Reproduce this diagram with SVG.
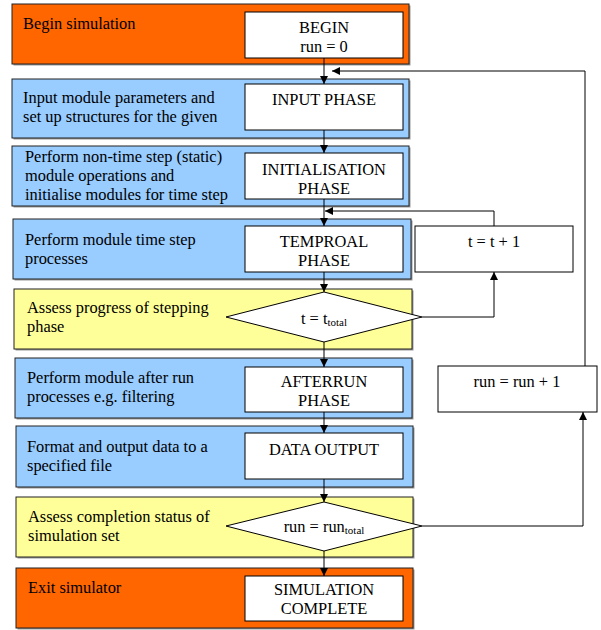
<svg xmlns="http://www.w3.org/2000/svg" width="601" height="630" viewBox="0 0 601 630" font-family="'Liberation Serif', 'Times New Roman', serif">
<defs>
<style>
text{font-family:'Liberation Serif','Times New Roman',serif;font-size:16.4px;fill:#000}
.c{text-anchor:middle}
.sub{font-size:11px}
.sh{fill:#999;stroke:none}
.or{fill:#FF6600;stroke:#222;stroke-width:1}
.bl{fill:#99CCFF;stroke:#222;stroke-width:1}
.ye{fill:#FFFF99;stroke:#222;stroke-width:1}
.bx{fill:#fff;stroke:#000;stroke-width:1}
.ln{fill:none;stroke:#000;stroke-width:1}
</style>
<marker id="ah" viewBox="0 0 10 10" refX="10" refY="5" markerWidth="8" markerHeight="8" markerUnits="userSpaceOnUse" orient="auto">
<path d="M0,0 L10,5 L0,10 z" fill="#000"/>
</marker>
</defs>

<g id="begin">
<rect class="sh" x="13.5" y="5.5" width="397" height="60"/>
<rect class="or" x="12" y="4" width="397" height="60"/>
<text x="23" y="29">Begin simulation</text>
<rect class="bx" x="245" y="12" width="158" height="46"/>
<text class="c" x="324" y="33">BEGIN</text>
<text class="c" x="324" y="52">run = 0</text>
</g>

<g id="input">
<rect class="sh" x="13.5" y="80.5" width="397" height="59"/>
<rect class="bl" x="12" y="79" width="397" height="59"/>
<text x="23" y="103">Input module parameters and</text>
<text x="23" y="122">set up structures for the given</text>
<rect class="bx" x="245" y="84" width="158" height="46"/>
<text class="c" x="324" y="105">INPUT PHASE</text>
</g>

<g id="init">
<rect class="sh" x="13.5" y="147.5" width="397" height="60"/>
<rect class="bl" x="12" y="146" width="397" height="60"/>
<text x="25" y="162">Perform non-time step (static)</text>
<text x="25" y="181">module operations and</text>
<text x="25" y="200">initialise modules for time step</text>
<rect class="bx" x="245" y="153" width="158" height="46"/>
<text class="c" x="324" y="175">INITIALISATION</text>
<text class="c" x="324" y="194">PHASE</text>
</g>

<g id="temporal">
<rect class="sh" x="14.5" y="220.5" width="398" height="60"/>
<rect class="bl" x="13" y="219" width="398" height="60"/>
<text x="25" y="245">Perform module time step</text>
<text x="25" y="264">processes</text>
<rect class="bx" x="245" y="226" width="158" height="46"/>
<text class="c" x="324" y="247">TEMPROAL</text>
<text class="c" x="324" y="266">PHASE</text>
</g>

<g id="assess-step">
<rect class="sh" x="15.5" y="290.5" width="398" height="60"/>
<rect class="ye" x="14" y="289" width="398" height="60"/>
<text x="27" y="313">Assess progress of stepping</text>
<text x="27" y="332">phase</text>
<polygon class="bx" points="324,292 422,317 324,342 226,317"/>
<text class="c" x="324" y="324">t = t<tspan class="sub" dy="2">total</tspan></text>
</g>

<g id="afterrun">
<rect class="sh" x="16.5" y="359.5" width="397" height="60"/>
<rect class="bl" x="15" y="358" width="397" height="60"/>
<text x="27" y="383">Perform module after run</text>
<text x="27" y="402">processes e.g. filtering</text>
<rect class="bx" x="245" y="367" width="158" height="45"/>
<text class="c" x="324" y="387">AFTERRUN</text>
<text class="c" x="324" y="406">PHASE</text>
</g>

<g id="output">
<rect class="sh" x="17.5" y="427.5" width="397" height="61"/>
<rect class="bl" x="16" y="426" width="397" height="61"/>
<text x="27" y="452">Format and output data to a</text>
<text x="27" y="471">specified file</text>
<rect class="bx" x="245" y="433" width="158" height="46"/>
<text class="c" x="324" y="455">DATA OUTPUT</text>
</g>

<g id="assess-run">
<rect class="sh" x="17.5" y="498.5" width="397" height="60"/>
<rect class="ye" x="16" y="497" width="397" height="60"/>
<text x="28" y="522">Assess completion status of</text>
<text x="28" y="541">simulation set</text>
<polygon class="bx" points="324,502 422,526 324,551 226,526"/>
<text class="c" x="324" y="532">run = run<tspan class="sub" dy="2">total</tspan></text>
</g>

<g id="complete">
<rect class="sh" x="17.5" y="569.5" width="397" height="60"/>
<rect class="or" x="16" y="568" width="397" height="60"/>
<text x="28" y="593">Exit simulator</text>
<rect class="bx" x="245" y="576" width="158" height="45"/>
<text class="c" x="324" y="595">SIMULATION</text>
<text class="c" x="324" y="614">COMPLETE</text>
</g>

<g id="t-inc">
<rect class="bx" x="415" y="226" width="158" height="46"/>
<text class="c" x="494" y="247">t = t + 1</text>
</g>

<g id="run-inc">
<rect class="bx" x="438" y="366" width="159" height="46"/>
<text class="c" x="517" y="387">run = run + 1</text>
</g>

<g id="connectors">
<line class="ln" x1="324" y1="58" x2="324" y2="84" marker-end="url(#ah)"/>
<line class="ln" x1="324" y1="130" x2="324" y2="153" marker-end="url(#ah)"/>
<line class="ln" x1="324" y1="199" x2="324" y2="226" marker-end="url(#ah)"/>
<line class="ln" x1="324" y1="272" x2="324" y2="292" marker-end="url(#ah)"/>
<line class="ln" x1="324" y1="342" x2="324" y2="367" marker-end="url(#ah)"/>
<line class="ln" x1="324" y1="412" x2="324" y2="433" marker-end="url(#ah)"/>
<line class="ln" x1="324" y1="479" x2="324" y2="502" marker-end="url(#ah)"/>
<line class="ln" x1="324" y1="551" x2="324" y2="576" marker-end="url(#ah)"/>
<polyline class="ln" points="422,317 494,317 494,272" marker-end="url(#ah)"/>
<polyline class="ln" points="494,226 494,211 325,211" marker-end="url(#ah)"/>
<polyline class="ln" points="422,526 583,526 583,412" marker-end="url(#ah)"/>
<polyline class="ln" points="585,366 585,71 332,71" marker-end="url(#ah)"/>
</g>
</svg>
